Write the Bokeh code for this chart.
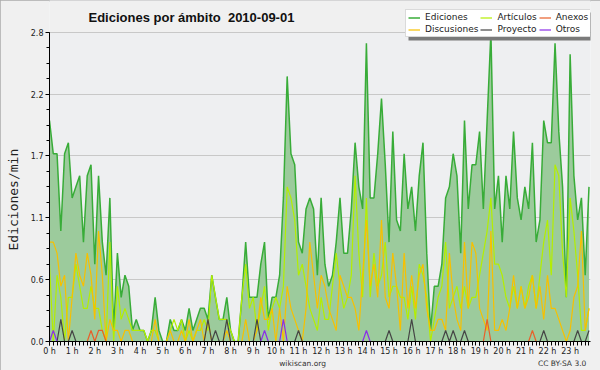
from bokeh.plotting import figure
from bokeh.models import (FixedTicker, PrintfTickFormatter, CustomJSTickFormatter, Title, Label,
                          Legend, LegendItem, LinearAxis, Range1d, BoxAnnotation)
from bokeh.embed import file_html
from bokeh.resources import INLINE

# 10-minute bins of 2010-09-01 (minutes after midnight)
minutes = list(range(0, 1440, 10))
hour_ticks = list(range(24))

# edits per minute
ediciones = [
    2.0, 1.7, 1.7, 1.0, 1.7, 1.8, 1.3, 1.4, 1.5, 0.9, 1.5, 1.6,
    0.7, 1.5, 0.9, 0.6, 1.3, 0.1, 0.8, 0.4, 0.6, 0.5, 0.1, 0.2,
    0.1, 0.1, 0.0, 0.1, 0.4, 0.1, 0.0, 0.0, 0.2, 0.1, 0.1, 0.2,
    0.1, 0.3, 0.1, 0.2, 0.3, 0.3, 0.2, 0.6, 0.4, 0.2, 0.2, 0.4,
    0.1, 0.0, 0.0, 0.4, 0.9, 0.4, 0.4, 0.4, 0.7, 0.9, 0.2, 0.4,
    0.4, 0.6, 1.3, 2.4, 1.7, 1.6, 0.9, 0.8, 1.2, 1.3, 1.2, 0.6,
    1.3, 0.7, 0.5, 0.6, 0.9, 1.3, 0.8, 0.8, 1.2, 1.8, 1.4, 1.2,
    2.7, 1.3, 1.3, 1.7, 2.2, 1.6, 0.9, 1.9, 1.1, 1.0, 1.7, 1.2,
    1.4, 1.0, 1.5, 1.8, 0.8, 0.1, 0.5, 0.5, 0.7, 1.3, 1.4, 1.7,
    1.5, 0.8, 2.0, 1.2, 1.6, 1.6, 1.9, 1.2, 2.0, 2.8, 1.2, 1.5,
    0.9, 1.5, 1.2, 1.9, 1.3, 1.1, 1.4, 1.2, 1.8, 0.9, 1.1, 2.0,
    1.8, 1.8, 2.7, 1.9, 1.4, 0.4, 2.6, 1.5, 1.1, 1.3, 0.6, 1.4,
]
articulos = [
    0.7, 0.0, 0.6, 0.4, 0.0, 0.4, 0.4, 0.7, 0.5, 0.3, 0.3, 0.5,
    0.3, 0.3, 0.1, 0.0, 0.9, 0.0, 0.5, 0.2, 0.3, 0.2, 0.1, 0.1,
    0.1, 0.1, 0.0, 0.1, 0.1, 0.0, 0.0, 0.0, 0.1, 0.2, 0.1, 0.2,
    0.0, 0.1, 0.0, 0.1, 0.1, 0.2, 0.1, 0.6, 0.4, 0.2, 0.2, 0.2,
    0.1, 0.0, 0.0, 0.4, 0.7, 0.3, 0.4, 0.1, 0.3, 0.5, 0.1, 0.3,
    0.4, 0.3, 0.5, 1.4, 1.3, 1.1, 0.6, 0.7, 0.5, 0.3, 0.2, 0.1,
    0.4, 0.2, 0.2, 0.5, 0.8, 0.5, 0.3, 0.4, 0.6, 1.5, 0.8, 0.4,
    1.3, 0.4, 0.8, 0.5, 0.6, 0.9, 0.4, 0.5, 0.5, 0.4, 0.4, 0.2,
    0.5, 0.2, 0.7, 0.6, 0.4, 0.0, 0.2, 0.4, 0.5, 0.9, 0.3, 0.4,
    0.5, 0.3, 0.5, 0.3, 0.4, 0.4, 0.6, 0.8, 1.0, 1.3, 0.7, 0.7,
    0.6, 0.4, 0.3, 0.5, 0.3, 0.5, 0.3, 0.5, 0.6, 0.3, 0.6, 0.9,
    1.1, 0.6, 1.6, 1.5, 0.8, 0.4, 1.3, 1.0, 0.6, 0.1, 0.1, 0.3,
]
discusiones = [
    0.9, 0.9, 0.8, 0.5, 0.6, 0.0, 0.4, 0.8, 0.6, 0.5, 0.8, 0.6,
    0.2, 1.0, 0.6, 0.0, 0.2, 0.1, 0.1, 0.0, 0.1, 0.1, 0.0, 0.0,
    0.0, 0.0, 0.0, 0.0, 0.2, 0.0, 0.0, 0.0, 0.1, 0.0, 0.0, 0.1,
    0.0, 0.2, 0.0, 0.1, 0.2, 0.0, 0.2, 0.0, 0.0, 0.0, 0.0, 0.1,
    0.0, 0.0, 0.0, 0.0, 0.2, 0.0, 0.0, 0.1, 0.4, 0.2, 0.2, 0.3,
    0.0, 0.3, 0.0, 0.5, 0.3, 0.2, 0.1, 0.0, 0.3, 0.9, 0.6, 0.3,
    0.6, 0.5, 0.3, 0.2, 0.1, 0.6, 0.5, 0.4, 0.4, 0.3, 0.1, 0.6,
    1.1, 0.5, 0.7, 0.4, 1.1, 0.4, 0.3, 0.8, 0.5, 0.1, 0.8, 0.3,
    0.6, 0.3, 0.6, 0.7, 0.3, 0.1, 0.1, 0.2, 0.2, 0.1, 0.8, 0.4,
    0.2, 0.1, 0.9, 0.3, 0.9, 0.8, 0.3, 0.2, 0.1, 1.0, 0.1, 0.1,
    0.2, 0.1, 0.3, 0.6, 0.3, 0.5, 0.3, 0.4, 0.6, 0.3, 0.5, 0.2,
    0.6, 0.3, 0.3, 0.2, 0.1, 0.0, 0.1, 0.4, 0.5, 1.0, 0.1, 0.3,
]
anexos = [
    0.0, 0.0, 0.0, 0.0, 0.0, 0.0, 0.0, 0.0, 0.0, 0.0, 0.0, 0.1,
    0.0, 0.1, 0.1, 0.0, 0.0, 0.0, 0.0, 0.0, 0.0, 0.0, 0.0, 0.0,
    0.0, 0.0, 0.0, 0.0, 0.0, 0.0, 0.0, 0.0, 0.0, 0.0, 0.0, 0.0,
    0.0, 0.0, 0.0, 0.0, 0.0, 0.0, 0.0, 0.0, 0.0, 0.0, 0.0, 0.0,
    0.0, 0.0, 0.0, 0.0, 0.0, 0.0, 0.0, 0.0, 0.0, 0.0, 0.0, 0.0,
    0.0, 0.0, 0.0, 0.0, 0.0, 0.0, 0.0, 0.0, 0.0, 0.0, 0.0, 0.0,
    0.0, 0.0, 0.0, 0.0, 0.0, 0.0, 0.0, 0.0, 0.0, 0.0, 0.0, 0.0,
    0.0, 0.0, 0.0, 0.0, 0.0, 0.0, 0.0, 0.0, 0.0, 0.0, 0.0, 0.0,
    0.0, 0.0, 0.0, 0.0, 0.0, 0.0, 0.0, 0.0, 0.0, 0.0, 0.0, 0.0,
    0.0, 0.0, 0.0, 0.0, 0.0, 0.0, 0.0, 0.0, 0.2, 0.0, 0.0, 0.0,
    0.0, 0.0, 0.0, 0.0, 0.0, 0.0, 0.0, 0.0, 0.1, 0.0, 0.0, 0.0,
    0.0, 0.0, 0.0, 0.0, 0.0, 0.0, 0.0, 0.0, 0.0, 0.0, 0.0, 0.0,
]
proyecto = [
    0.0, 0.0, 0.0, 0.2, 0.0, 0.0, 0.1, 0.0, 0.0, 0.0, 0.0, 0.0,
    0.0, 0.0, 0.0, 0.0, 0.0, 0.0, 0.0, 0.0, 0.0, 0.0, 0.0, 0.0,
    0.0, 0.0, 0.0, 0.0, 0.0, 0.0, 0.0, 0.0, 0.0, 0.0, 0.0, 0.0,
    0.0, 0.0, 0.0, 0.0, 0.0, 0.0, 0.2, 0.0, 0.1, 0.0, 0.0, 0.2,
    0.0, 0.0, 0.0, 0.0, 0.0, 0.0, 0.0, 0.2, 0.0, 0.0, 0.0, 0.0,
    0.0, 0.0, 0.0, 0.0, 0.0, 0.0, 0.1, 0.0, 0.0, 0.0, 0.0, 0.0,
    0.0, 0.0, 0.0, 0.0, 0.0, 0.0, 0.0, 0.0, 0.0, 0.0, 0.0, 0.0,
    0.0, 0.0, 0.0, 0.0, 0.0, 0.0, 0.1, 0.0, 0.0, 0.0, 0.0, 0.0,
    0.2, 0.0, 0.0, 0.0, 0.0, 0.0, 0.0, 0.0, 0.0, 0.1, 0.0, 0.1,
    0.0, 0.0, 0.1, 0.0, 0.0, 0.0, 0.0, 0.0, 0.0, 0.0, 0.0, 0.0,
    0.0, 0.0, 0.0, 0.0, 0.0, 0.0, 0.0, 0.0, 0.0, 0.0, 0.0, 0.1,
    0.0, 0.0, 0.0, 0.0, 0.0, 0.0, 0.0, 0.0, 0.1, 0.0, 0.0, 0.1,
]
otros = [
    0.0, 0.1, 0.0, 0.0, 0.0, 0.0, 0.0, 0.0, 0.0, 0.0, 0.0, 0.0,
    0.0, 0.0, 0.0, 0.0, 0.0, 0.0, 0.0, 0.0, 0.0, 0.0, 0.0, 0.0,
    0.0, 0.0, 0.0, 0.0, 0.0, 0.0, 0.0, 0.0, 0.0, 0.0, 0.0, 0.0,
    0.0, 0.0, 0.0, 0.0, 0.0, 0.0, 0.0, 0.0, 0.0, 0.0, 0.0, 0.0,
    0.0, 0.0, 0.0, 0.0, 0.0, 0.0, 0.0, 0.0, 0.0, 0.1, 0.0, 0.0,
    0.0, 0.0, 0.2, 0.0, 0.0, 0.0, 0.0, 0.0, 0.0, 0.0, 0.0, 0.0,
    0.0, 0.0, 0.0, 0.0, 0.0, 0.0, 0.0, 0.0, 0.0, 0.0, 0.0, 0.0,
    0.1, 0.0, 0.0, 0.0, 0.0, 0.0, 0.0, 0.0, 0.0, 0.0, 0.0, 0.0,
    0.0, 0.0, 0.0, 0.0, 0.0, 0.0, 0.0, 0.0, 0.0, 0.0, 0.0, 0.0,
    0.0, 0.0, 0.0, 0.0, 0.0, 0.0, 0.0, 0.0, 0.0, 0.0, 0.0, 0.0,
    0.0, 0.0, 0.0, 0.0, 0.0, 0.0, 0.0, 0.0, 0.0, 0.0, 0.0, 0.0,
    0.0, 0.0, 0.0, 0.0, 0.0, 0.0, 0.0, 0.0, 0.0, 0.0, 0.0, 0.0,
]
y_ticks = [0.0, 0.56, 1.12, 1.68, 2.24, 2.8]
y_minor = [0.14 * k for k in range(21)]
Y_MAX, X_MAX = 2.8, 23.9

hours = [m / 60 for m in minutes]

FONT = "DejaVu Sans"
BORDER = "#f0f0f0"
W, H = 600, 370
ML, MR, MT, MB = 46, 10, 0, 26
FRAME_H = H - MT - MB            # the frame reaches the top; the axis is bounded at 2.8
PLOT_TOP = 32                    # canvas y of the 2.8 line
y_end = Y_MAX * FRAME_H / (FRAME_H - PLOT_TOP)
p = figure(width=W, height=H, output_backend="svg", toolbar_location=None, title=None,
           x_range=Range1d(0, X_MAX), y_range=Range1d(0, y_end),
           min_border_left=ML, min_border_right=MR, min_border_top=MT, min_border_bottom=MB,
           background_fill_color="#eeeff1", border_fill_color=BORDER)
p.outline_line_color = None
p.styles = {"outline": "2px solid #ababab", "outline-offset": "-2px"}
p.add_layout(BoxAnnotation(bottom=Y_MAX, fill_color=BORDER, fill_alpha=1, line_color=None,
                           level="image"))

# axes
p.xaxis.ticker = FixedTicker(ticks=hour_ticks, minor_ticks=hours)
p.xaxis.formatter = CustomJSTickFormatter(code="return Math.round(tick) + ' h';")
p.yaxis.ticker = FixedTicker(ticks=y_ticks, minor_ticks=y_minor)
p.yaxis.formatter = PrintfTickFormatter(format="%.1f")
p.yaxis.bounds = (0, Y_MAX)
for ax in (p.xaxis[0], p.yaxis[0]):
    ax.axis_line_color = "black"
    ax.axis_line_width = 1
    ax.major_tick_line_color = "black"
    ax.minor_tick_line_color = "black"
    ax.major_tick_in = 0
    ax.minor_tick_in = 0
    ax.major_label_text_font = FONT
    ax.major_label_text_font_size = "8px"
    ax.major_label_text_color = "#222222"
p.xaxis.major_tick_out = 4
p.xaxis.minor_tick_out = 4
p.xaxis.major_label_standoff = 1
p.yaxis.major_tick_out = 4
p.yaxis.minor_tick_out = 3
p.yaxis.major_label_standoff = 2
p.xgrid.visible = False
p.ygrid.grid_line_color = "#c8c8c8"
p.ygrid.grid_line_width = 1

# footer texts as an unlined extra axis below the time axis
px_per_h = (W - ML - MR) / X_MAX
foot_pos = [(300.5 - ML) / px_per_h, (561.5 - ML) / px_per_h]
foot = LinearAxis(ticker=FixedTicker(ticks=foot_pos, minor_ticks=[]),
                  major_label_overrides={foot_pos[0]: "wikiscan.org", foot_pos[1]: "CC BY-SA 3.0"})
foot.axis_line_color = None
foot.major_tick_line_color = None
foot.minor_tick_line_color = None
foot.major_tick_out = 0
foot.major_label_standoff = 0
foot.major_label_text_font = FONT
foot.major_label_text_font_size = "7.5px"
foot.major_label_text_color = "#333333"
p.add_layout(foot, "below")

# y label in the left panel
FB = H - MB
p.add_layout(Title(text="Ediciones/min", align="left", offset=FB - 253, vertical_align="top",
                   standoff=10, text_font="DejaVu Sans Mono", text_font_size="13px",
                   text_font_style="normal", text_color="#222222"), "left")

# series
p.varea(x=hours, y1=0, y2=ediciones, fill_color="#9ccb9c", fill_alpha=1)
r_ed = p.line(hours, ediciones, line_color="#38ac38", line_width=1.5)
r_art = p.line(hours, articulos, line_color="#b4ee00", line_width=1.2)
r_dis = p.line(hours, discusiones, line_color="#f7c000", line_width=1.2)
r_anx = p.line(hours, anexos, line_color="#e8602a", line_width=1.2)
r_pro = p.line(hours, proyecto, line_color="#454545", line_width=1.2)
r_otr = p.line(hours, otros, line_color="#8a2ee8", line_width=1.2)

# title (inside the frame, which reaches the top of the canvas)
p.add_layout(Label(x=85 - ML, y=FB - 19.5, x_units="screen", y_units="screen",
                   text="Ediciones por ámbito \u00a02010-09-01", text_font="Liberation Sans",
                   text_font_size="13px", text_font_style="bold", text_color="#111111",
                   text_align="left", text_baseline="alphabetic"))

# legend with a drop shadow
LX, LT, LW, LH = 402, 12, 186, 28
p.add_layout(BoxAnnotation(left=LX + 3 - ML, right=LX + LW + 3 - ML,
                           top=FB - (LT + 3), bottom=FB - (LT + LH + 3),
                           left_units="screen", right_units="screen",
                           top_units="screen", bottom_units="screen",
                           fill_color="#7a7a7a", fill_alpha=1, line_color=None))
legend = Legend(items=[
    LegendItem(label="Ediciones", renderers=[r_ed]),
    LegendItem(label="Artículos", renderers=[r_art]),
    LegendItem(label="Anexos", renderers=[r_anx]),
    LegendItem(label="Discusiones", renderers=[r_dis]),
    LegendItem(label="Proyecto", renderers=[r_pro]),
    LegendItem(label="Otros", renderers=[r_otr]),
], orientation="horizontal", ncols=3, location=(LX - ML, FB - (LT + LH)))
legend.padding = 2
legend.spacing = 2
legend.margin = 0
legend.glyph_width = 12
legend.glyph_height = 9
legend.label_height = 9
legend.label_standoff = 5
legend.label_text_font = FONT
legend.label_text_font_size = "9px"
legend.label_text_color = "#222222"
legend.background_fill_color = "white"
legend.background_fill_alpha = 1
legend.border_line_color = "#b5b5b5"
legend.border_line_width = 1
p.add_layout(legend)

open("out.html", "w").write(file_html(p, INLINE))
